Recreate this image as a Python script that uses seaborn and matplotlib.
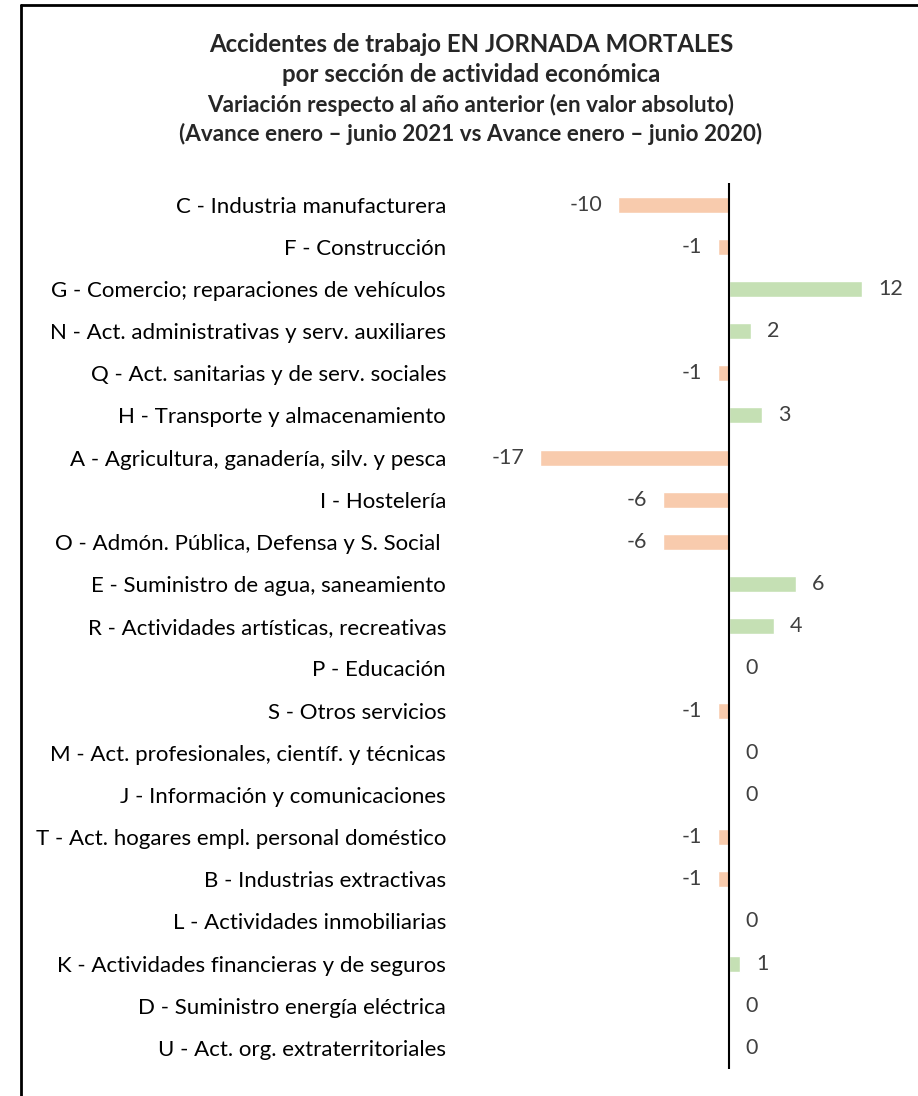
import matplotlib
matplotlib.use("Agg")
import matplotlib.pyplot as plt
import seaborn as sns
from matplotlib.lines import Line2D

sectors = [
    "C - Industria manufacturera",
    "F - Construcción",
    "G - Comercio; reparaciones de vehículos",
    "N - Act. administrativas y serv. auxiliares",
    "Q - Act. sanitarias y de serv. sociales",
    "H - Transporte y almacenamiento",
    "A - Agricultura, ganadería, silv. y pesca",
    "I - Hostelería",
    "O - Admón. Pública, Defensa y S. Social ",
    "E - Suministro de agua, saneamiento",
    "R - Actividades artísticas, recreativas",
    "P - Educación",
    "S - Otros servicios",
    "M - Act. profesionales, científ. y técnicas",
    "J - Información y comunicaciones",
    "T - Act. hogares empl. personal doméstico",
    "B - Industrias extractivas",
    "L - Actividades inmobiliarias",
    "K - Actividades financieras y de seguros",
    "D - Suministro energía eléctrica",
    "U - Act. org. extraterritoriales",
]
variation = [-10, -1, 12, 2, -1, 3, -17, -6, -6, 6, 4, 0, -1, 0, 0, -1, -1, 0, 1, 0, 0]

title_lines = [
    "Accidentes de trabajo EN JORNADA MORTALES",
    "por sección de actividad económica",
    "Variación respecto al año anterior (en valor absoluto)",
    "(Avance enero – junio 2021 vs Avance enero – junio 2020)",
]

sns.set_style("white")
plt.rcParams["font.family"] = ["Lato", "DejaVu Sans"]

sign = ["neg" if v < 0 else "pos" for v in variation]
colors = {"neg": "#F8CBAD", "pos": "#C5E0B4"}

fig = plt.figure(figsize=(9.18, 10.96), dpi=100)
ax = fig.add_axes([0.504, 0.0246, 0.4717, 0.808])

sns.barplot(x=variation, y=sectors, hue=sign, palette=colors, dodge=False,
            legend=False, width=0.38, orient="h", saturation=1, ax=ax)

ax.set_xlim(-24, 15)
ax.set_ylim(20.5, -0.5)
ax.axvline(0, color="black", lw=1.5)
for s in ax.spines.values():
    s.set_visible(False)
ax.set_xticks([])
ax.tick_params(axis="y", length=0, pad=12, labelsize=16, labelcolor="#000000")
ax.set_xlabel("")
ax.set_ylabel("")

for i, v in enumerate(variation):
    if v < 0:
        ax.annotate(str(v), (v, i), xytext=(-11.5, 0), textcoords="offset points",
                    ha="right", va="center", fontsize=15.5, color="#404040")
    else:
        ax.annotate(str(v), (v, i), xytext=(11.5, 0), textcoords="offset points",
                    ha="left", va="center", fontsize=15.5, color="#404040")

ys = [1 - 44 / 1096, 1 - 74 / 1096, 1 - 105 / 1096, 1 - 134 / 1096]
sizes = [17.3, 17.3, 16.2, 16.2]
for t, y, fs in zip(title_lines, ys, sizes):
    fig.text(0.513, y, t, ha="center", va="center", fontsize=fs, fontweight="bold")

# outer frame (top and left)
fig.add_artist(Line2D([21 / 918, 1], [1 - 5 / 1096, 1 - 5 / 1096], color="black", lw=2))
fig.add_artist(Line2D([21 / 918, 21 / 918], [0, 1 - 5 / 1096], color="black", lw=2))

fig.savefig("out.png", dpi=100)
